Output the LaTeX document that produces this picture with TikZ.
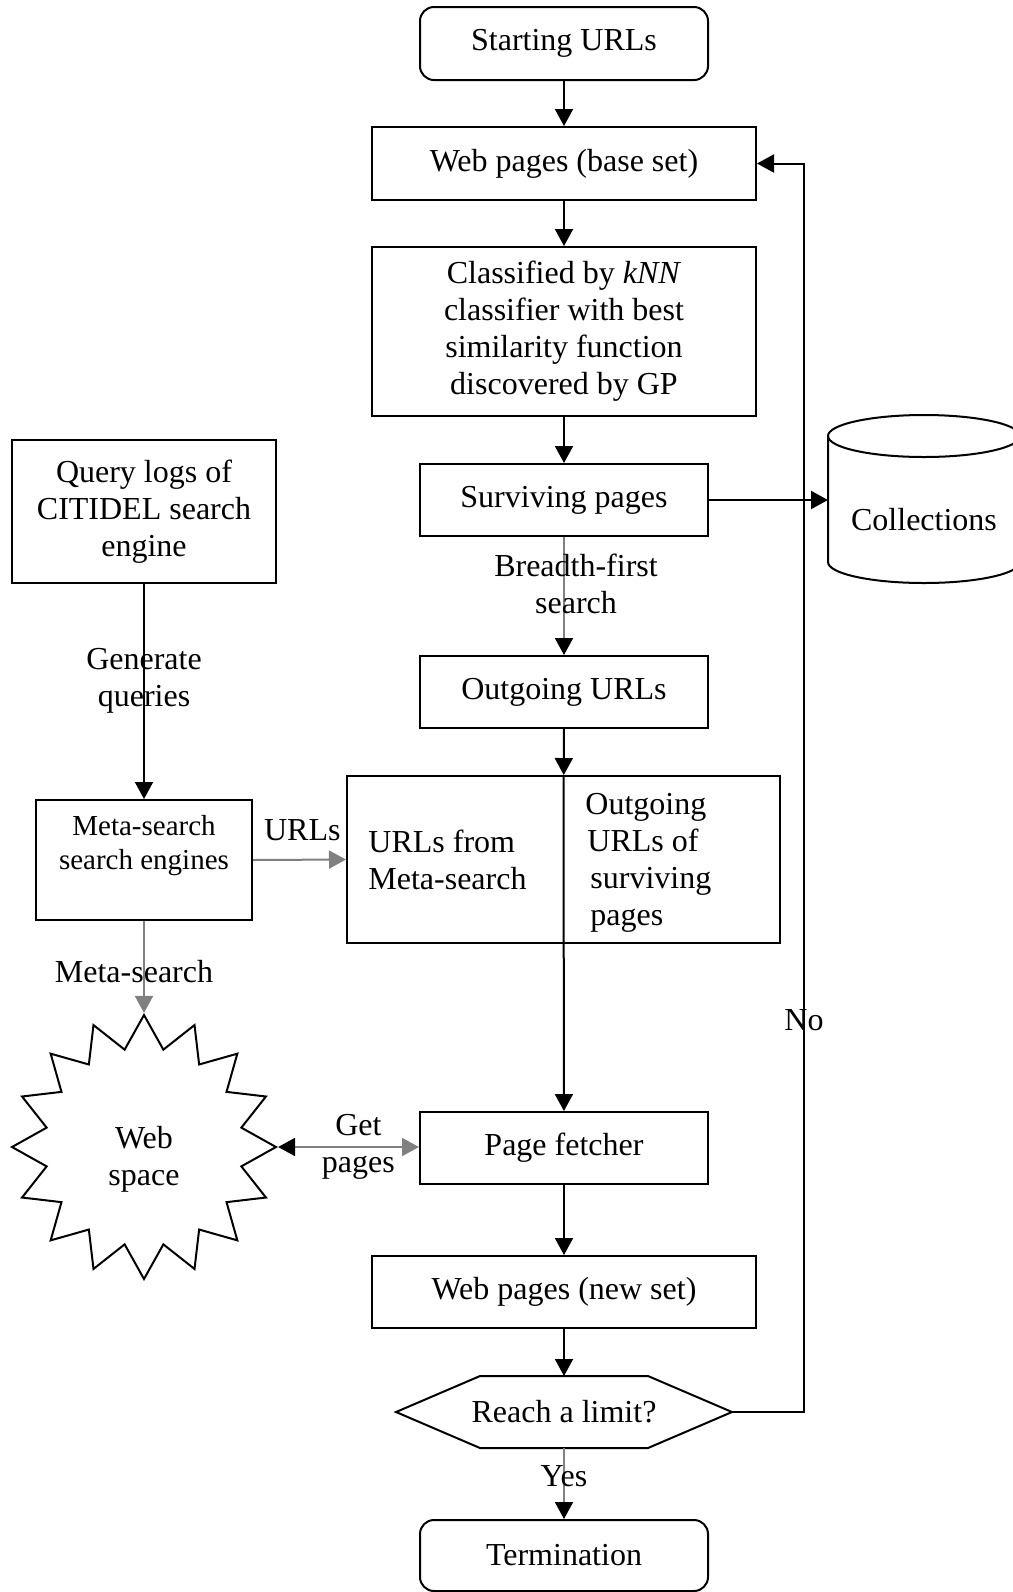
\documentclass[tikz,border=0pt]{standalone}
\usepackage{fontspec}
\setmainfont{Liberation Serif}
\usetikzlibrary{arrows.meta,shapes.geometric,calc}
\newcommand\smallfs{\fontsize{14.5}{17}\selectfont}
\tikzset{
  box/.style={draw, rectangle, line width=1pt, align=center, inner sep=0pt},
  rbox/.style={box, rounded corners=7pt},
  txt/.style={align=center, inner sep=0pt},
  arr/.style={-{Triangle[length=8.5pt,width=9pt]}, line width=1pt},
  garr/.style={arr, gray},
  marr/.style={-{Triangle[length=8.5pt,width=9pt,color=black]}, line width=1pt, gray},
  lbl/.style={align=center, inner sep=0pt, text=black}
}
\begin{document}
\begin{tikzpicture}[x=0.5pt, y=-0.5pt, font=\fontsize{16}{18.5}\selectfont]
\useasboundingbox (0,0) rectangle (1013,1592);

% main column
\node[rbox, minimum width=144pt, minimum height=36.5pt] (start) at (564,43.5) {Starting URLs};
\node[box, minimum width=192pt, minimum height=36.5pt] (base) at (564,163.5) {Web pages (base set)};
\node[box, minimum width=192pt, minimum height=84.5pt] (cls) at (564,331.5) {Classified by \textit{kNN}\\classifier with best\\similarity function\\discovered by GP};
\node[box, minimum width=144pt, minimum height=36pt] (surv) at (564,500) {Surviving pages};
\node[box, minimum width=144pt, minimum height=36pt] (out) at (564,692) {Outgoing URLs};
\node[box, minimum width=216.5pt, minimum height=83.5pt] (mrg) at (563.5,859.5) {};
\node[txt, anchor=west, align=left] (mleft) at (368,860) {URLs from\\Meta-search};
\node[txt, anchor=west, align=left] (mright) at (585,862.5) {Outgoing\\\hspace{1pt}URLs of\\\hspace{2.5pt}surviving\\\hspace{2.5pt}pages};
\node[box, minimum width=144pt, minimum height=36pt] (fetch) at (564,1148) {Page fetcher};
\node[box, minimum width=192pt, minimum height=36pt] (newset) at (564,1292) {Web pages (new set)};
\node[txt] (lim) at (564,1412) {Reach a limit?};
\coordinate (limr) at ($(lim)+(168,0)$);
\coordinate (liml) at ($(lim)+(-168,0)$);
\coordinate (limt) at ($(lim)+(0,-36)$);
\coordinate (limb) at ($(lim)+(0,36)$);
\draw[line width=1pt] ($(lim)+(-84,-36)$) -- ($(lim)+(84,-36)$) -- (limr) -- ($(lim)+(84,36)$)
  -- ($(lim)+(-84,36)$) -- (liml) -- cycle;
\node[rbox, minimum width=144pt, minimum height=35.5pt] (term) at (564,1555.5) {Termination};

% left column
\node[box, minimum width=132pt, minimum height=71.5pt] (qlog) at (144,511.5) {Query logs of\\CITIDEL search\\engine};
\node[box, minimum width=108pt, minimum height=60pt] (meta) at (144,860) {};
\node[txt, font=\smallfs] (metat) at (144,846) {Meta-search\\search engines};
\node[draw, star, star points=16, star point ratio=1.33, minimum size=132pt, inner sep=0pt, line width=1pt] (web) at (144,1147) {};
\node[txt] (webt) at (144,1159) {Web\\space};

% collections
\draw[line width=1pt] (828,436) -- (828,562) arc[start angle=180, end angle=360, x radius=48pt, y radius=10.5pt] -- (1020,436);
\draw[line width=1pt] (924,436) ellipse[x radius=48pt, y radius=10.5pt];
\node[txt] (coll) at (924,520) {Collections};
\coordinate (collw) at (828,500);

% connectors
\draw[arr] (start) -- (base);
\draw[arr] (base) -- (cls);
\draw[arr] (cls) -- (surv);
\draw[arr] (surv.east) -- (collw);
\draw[marr] (surv) -- node[lbl, pos=0.4, xshift=6pt]{Breadth-first\\search} (out);
\draw[arr] (out) -- (mrg);
\draw[arr] (mrg.north) -- (fetch);
\draw[arr] (fetch) -- (newset);
\draw[arr] (newset) -- (limt);
\draw[marr] (limb) -- node[lbl, pos=0.4]{Yes} (term);
\draw[arr] (limr) -- ++(72,0) |- node[lbl, pos=0.157]{No} (base.east);
\draw[arr] (qlog) -- node[lbl, pos=0.45]{Generate\\queries} (meta);
\draw[garr] (meta.east) -- node[lbl, above=9pt, pos=0.53]{URLs} (mrg.west);
\draw[garr] (meta) -- node[lbl, pos=0.55, xshift=-5pt]{Meta-search} (web.north);
\draw[{Triangle[length=8.5pt,width=9pt,color=black]}-{Triangle[length=8.5pt,width=9pt]}, line width=1pt, gray]
  (web.east) -- node[lbl, pos=0.57]{Get\\pages} (web.east -| fetch.west);
\end{tikzpicture}
\end{document}
